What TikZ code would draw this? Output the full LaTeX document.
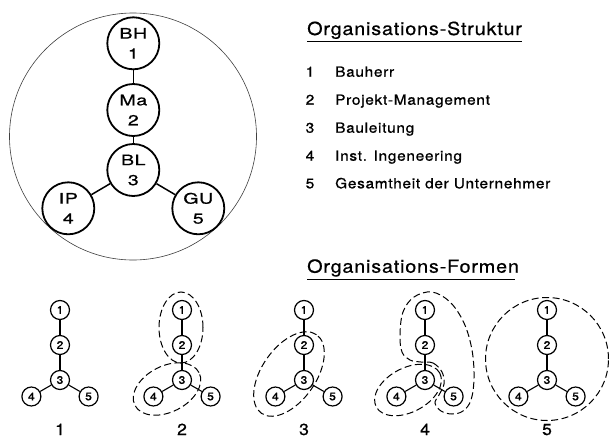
\documentclass[tikz,border=0pt]{standalone}
\usepackage{fontspec}
\setmainfont{TeX Gyre Heros}
\newfontfamily\titlefont{TeX Gyre Heros}[FakeStretch=1.1,LetterSpace=4.5,FakeBold=0.6]
\newfontfamily\listfont{TeX Gyre Heros}[FakeStretch=1.1,LetterSpace=5,FakeBold=0.8]
\newfontfamily\nodefont{TeX Gyre Heros}[FakeStretch=1.35,LetterSpace=4,FakeBold=0.8]
\newfontfamily\digfont{TeX Gyre Heros}[FakeStretch=1.1,FakeBold=0.8]
\begin{document}
\begin{tikzpicture}[x=1pt,y=-1pt,
  big/.style={circle,draw,line width=1.8pt,minimum size=52pt,inner sep=0pt,align=center,
    font=\nodefont\fontsize{14.5}{20}\selectfont},
  sm/.style={circle,draw,line width=1.2pt,minimum size=19pt,inner sep=0pt,
    font=\digfont\fontsize{11}{12}\selectfont},
  edge/.style={line width=1.5pt},
  sedge/.style={line width=1.1pt},
  grp/.style={line width=1pt,dash pattern=on 7pt off 3.5pt},
  ttl/.style={anchor=base west,inner sep=0pt,font=\titlefont\fontsize{18}{20}\selectfont},
  num/.style={anchor=base,inner sep=0pt,font=\listfont\fontsize{14}{16}\selectfont},
  item/.style={anchor=base west,inner sep=0pt,font=\listfont\fontsize{14}{16}\selectfont},
  lab/.style={anchor=base,inner sep=0pt,font=\digfont\fontsize{16}{18}\selectfont}]
\useasboundingbox (0,0) rectangle (611,437);
\fill[white] (0,0) rectangle (611,437);
% big structure
\draw[line width=0.6pt,black!75] (133,136.5) circle[radius=123.5pt];
\node[big] (bh) at (133.3,43.3) {BH\\1};
\node[big] (ma) at (133.3,110) {Ma\\2};
\node[big] (bl) at (133.3,170) {BL\\3};
\node[big] (ip) at (68.3,208.3) {IP\\4};
\node[big] (gu) at (198.3,208.3) {GU\\5};
\draw[edge] (bh) -- (ma);
\draw[edge] (ma) -- (bl);
\draw[edge] (bl) -- (ip);
\draw[edge] (bl) -- (gu);
% titles and list
\node[ttl] (t1) at (307,35) {Organisations-Struktur};
\draw[line width=1.2pt] (307,41.7) -- (522,41.7);
\node[num] (n1) at (310,76.7) {1};  \node[item] (i1) at (335,76.7) {Bauherr};
\node[num] (n2) at (310,104.7) {2}; \node[item] (i2) at (335,104.7) {Projekt-Management};
\node[num] (n3) at (310,132.7) {3}; \node[item] (i3) at (335,132.7) {Bauleitung};
\node[num] (n4) at (310,160.7) {4}; \node[item] (i4) at (335,160.7) {Inst. Ingeneering};
\node[num] (n5) at (310,188.3) {5}; \node[item] (i5) at (335,188.3) {Gesamtheit der Unternehmer};
\node[ttl] (t2) at (307,272.7) {Organisations-Formen};
\draw[line width=1.2pt] (307,279.3) -- (515,279.3);
% small trees
\foreach \k/\x in {1/60,2/182,3/304,4/425,5/547}{
  \node[sm] (t\k-1) at (\x,310) {1};
  \node[sm] (t\k-2) at (\x,345) {2};
  \node[sm] (t\k-3) at (\x,380) {3};
  \node[sm] (t\k-4) at (\x-28.6,396.5) {4};
  \node[sm] (t\k-5) at (\x+28.6,396.5) {5};
  \draw[sedge] (t\k-1) -- (t\k-2);
  \draw[sedge] (t\k-2) -- (t\k-3);
  \draw[sedge] (t\k-3) -- (t\k-4);
  \draw[sedge] (t\k-3) -- (t\k-5);
  \node[lab] (l\k) at (\x,435) {\k};
}
% groups
\draw[grp] (181,327.5) ellipse[x radius=22pt,y radius=35.5pt];
\draw[grp] (167,389) ellipse[x radius=36pt,y radius=23pt,rotate=27];
\draw[grp] (289,374) ellipse[x radius=48pt,y radius=27pt,rotate=55];
\draw[grp] (408,390) ellipse[x radius=36pt,y radius=22pt,rotate=28];
\draw[grp] plot[smooth cycle,tension=0.6] coordinates {(421,362) (433,363) (442,372) (444,384) (439,395) (435,403) (441,411) (452,414) (463,411) (471,400) (474,378) (472,350) (464,323) (450,302) (432,292) (414,297) (403,312) (400,335) (402,352) (410,360)};
\draw[grp] (547,359) circle[radius=61.5pt];
\end{tikzpicture}
\end{document}
